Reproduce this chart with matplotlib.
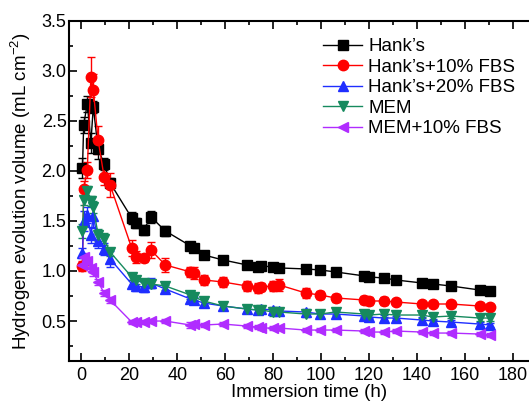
import numpy as np
import matplotlib
matplotlib.use("Agg")
import matplotlib.pyplot as plt
from matplotlib.ticker import MultipleLocator

# immersion times (h), shared by all five media
time_h = [0.5, 1, 2.5, 4, 5, 7, 9.5, 12,
          21, 23, 26, 29, 35,
          45.5, 47, 51, 59, 69, 73.5, 75, 80, 82.5, 93.5, 99.5, 106,
          118, 120, 126, 131, 142, 146.5, 154, 166, 170.5]

hanks = [2.03, 2.46, 2.67, 2.28, 2.64, 2.22, 2.07, 1.88,
         1.53, 1.48, 1.41, 1.54, 1.40,
         1.25, 1.23, 1.16, 1.11, 1.06, 1.04, 1.05, 1.04, 1.03, 1.02, 1.01, 0.99,
         0.95, 0.94, 0.93, 0.91, 0.88, 0.87, 0.85, 0.81, 0.80]
hanks_err = [0.10, 0.08, 0.08, 0.10, 0.06, 0.10, 0.06, 0.05,
             0.06, 0.05, 0.05, 0.06, 0.05,
             0.04, 0.04, 0.04, 0.04, 0.04, 0.04, 0.04, 0.03, 0.03, 0.03, 0.03, 0.03,
             0.03, 0.03, 0.03, 0.03, 0.03, 0.03, 0.03, 0.03, 0.03]

hanks_fbs10 = [1.05, 1.82, 2.01, 2.94, 2.81, 2.31, 1.94, 1.86,
               1.23, 1.14, 1.13, 1.21, 1.06,
               0.99, 0.98, 0.91, 0.89, 0.85, 0.83, 0.84, 0.85, 0.86, 0.78, 0.76, 0.73,
               0.71, 0.70, 0.70, 0.69, 0.67, 0.67, 0.67, 0.65, 0.64]
hanks_fbs10_err = [0.05, 0.08, 0.08, 0.20, 0.16, 0.14, 0.08, 0.12,
                   0.08, 0.06, 0.04, 0.08, 0.07,
                   0.05, 0.06, 0.05, 0.05, 0.05, 0.05, 0.04, 0.05, 0.06, 0.05, 0.04, 0.04,
                   0.04, 0.04, 0.04, 0.03, 0.03, 0.03, 0.03, 0.03, 0.03]

hanks_fbs20 = [1.18, 1.50, 1.56, 1.36, 1.55, 1.30, 1.22, 1.12,
               0.87, 0.85, 0.84, 0.88, 0.82,
               0.72, 0.71, 0.68, 0.65, 0.62, 0.61, 0.62, 0.61, 0.60, 0.59, 0.57, 0.57,
               0.55, 0.54, 0.53, 0.53, 0.51, 0.50, 0.49, 0.47, 0.46]
hanks_fbs20_err = [0.05, 0.10, 0.08, 0.08, 0.12, 0.07, 0.06, 0.08,
                   0.04, 0.05, 0.05, 0.05, 0.04,
                   0.03, 0.03, 0.04, 0.04, 0.03, 0.03, 0.03, 0.03, 0.03, 0.03, 0.03, 0.03,
                   0.03, 0.03, 0.03, 0.02, 0.03, 0.02, 0.02, 0.02, 0.02]

mem = [1.40, 1.71, 1.80, 1.70, 1.64, 1.36, 1.32, 1.19,
       0.94, 0.91, 0.88, 0.87, 0.85,
       0.76, 0.74, 0.70, 0.65, 0.62, 0.61, 0.61, 0.59, 0.59, 0.57, 0.57, 0.59,
       0.57, 0.56, 0.57, 0.56, 0.56, 0.54, 0.55, 0.53, 0.53]
mem_err = [0.07, 0.05, 0.05, 0.05, 0.06, 0.06, 0.06, 0.04,
           0.03, 0.04, 0.04, 0.04, 0.04,
           0.04, 0.03, 0.04, 0.04, 0.03, 0.04, 0.03, 0.04, 0.03, 0.03, 0.04, 0.03,
           0.03, 0.03, 0.03, 0.03, 0.03, 0.03, 0.02, 0.03, 0.03]

mem_fbs10 = [1.06, 1.14, 1.10, 1.03, 0.99, 0.89, 0.78, 0.71,
             0.49, 0.49, 0.49, 0.50, 0.50,
             0.46, 0.47, 0.46, 0.47, 0.45, 0.44, 0.43, 0.43, 0.43, 0.41, 0.41, 0.41,
             0.40, 0.39, 0.39, 0.40, 0.39, 0.38, 0.38, 0.37, 0.36]
mem_fbs10_err = [0.03, 0.04, 0.04, 0.03, 0.04, 0.03, 0.03, 0.03,
                 0.02, 0.02, 0.02, 0.02, 0.02,
                 0.03, 0.02, 0.02, 0.02, 0.02, 0.02, 0.02, 0.02, 0.02, 0.02, 0.02, 0.02,
                 0.02, 0.02, 0.02, 0.02, 0.02, 0.02, 0.02, 0.02, 0.02]

labels = ["Hank\u2019s", "Hank\u2019s+10% FBS", "Hank\u2019s+20% FBS", "MEM", "MEM+10% FBS"]

plt.rcParams["font.family"] = ["Liberation Sans", "DejaVu Sans"]
plt.rcParams["mathtext.default"] = "regular"

fig = plt.figure(figsize=(5.29, 4.03), dpi=100)
# right spine falls outside the cropped picture, as in the reference
ax = fig.add_axes([0.131, 0.104, 0.907, 0.845])

series = [
    (hanks, hanks_err, "black", "s", 6.5),
    (hanks_fbs10, hanks_fbs10_err, "#ff0000", "o", 7.5),
    (hanks_fbs20, hanks_fbs20_err, "#1f2eff", "^", 7.5),
    (mem, mem_err, "#168a5e", "v", 7.5),
    (mem_fbs10, mem_fbs10_err, "#b02cff", "<", 7.5),
]
handles = []
for (vals, errs, col, mk, ms), lab in zip(series, labels):
    c = ax.errorbar(time_h, vals, yerr=errs, fmt="-" + mk, color=col, ms=ms,
                    lw=1.0, elinewidth=1.0, capsize=3.2, capthick=1.0, label=lab)
    handles.append(c[0])

ax.set_xlim(-5, 195)
ax.set_ylim(0.1, 3.5)
ax.xaxis.set_major_locator(MultipleLocator(20))
ax.xaxis.set_minor_locator(MultipleLocator(10))
ax.yaxis.set_major_locator(MultipleLocator(0.5))
ax.yaxis.set_minor_locator(MultipleLocator(0.25))
ax.tick_params(which="both", direction="in", top=True, right=True, width=1.2,
               labelsize=13)
ax.tick_params(axis="x", pad=4)
ax.tick_params(axis="y", pad=2)
ax.tick_params(which="major", length=5.5)
ax.tick_params(which="minor", length=2.7)
for s in ax.spines.values():
    s.set_linewidth(1.5)

ax.set_xlabel("Immersion time (h)", fontsize=13.5, labelpad=0.5)
ax.set_ylabel("Hydrogen evolution volume (mL cm$^{-2}$)", fontsize=13.5, labelpad=6)

ax.legend(handles=handles, labels=labels, loc="upper left",
          bbox_to_anchor=(0.6106, 0.905), bbox_transform=fig.transFigure,
          frameon=False, fontsize=13.5, numpoints=1, handlelength=2.1,
          handletextpad=0.3, labelspacing=0.18, borderpad=0, borderaxespad=0)

fig.savefig("out.png", dpi=100)
